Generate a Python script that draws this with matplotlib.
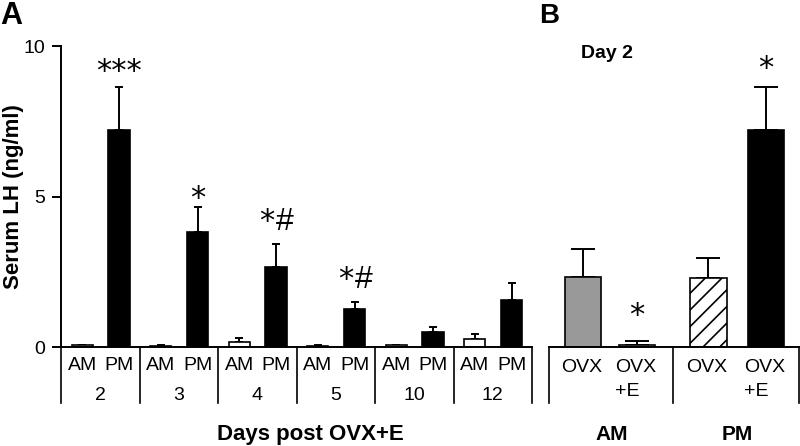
import matplotlib
matplotlib.use('Agg')
import matplotlib.pyplot as plt
import numpy as np

plt.rcParams['font.family'] = ['Liberation Sans', 'DejaVu Sans']
plt.rcParams['hatch.linewidth'] = 1.2

# Panel A data
days = ['2', '3', '4', '5', '10', '12']
am_vals = [0.05, 0.04, 0.18, 0.04, 0.05, 0.27]
am_err = [0.03, 0.03, 0.12, 0.03, 0.03, 0.16]
pm_vals = [7.2, 3.82, 2.66, 1.26, 0.5, 1.56]
pm_err = [1.45, 0.84, 0.76, 0.24, 0.16, 0.57]
pm_stars = ['***', '*', '*', '*', '', '']
pm_hash = [False, False, True, True, False, False]

# Panel B data (day 2)
b_labels = ['OVX', 'OVX\n+E', 'OVX', 'OVX\n+E']
b_groups = ['AM', 'PM']
b_vals = [2.33, 0.08, 2.3, 7.2]
b_err = [0.93, 0.12, 0.66, 1.45]
b_stars = ['', '*', '', '*']

LW = 1.4
FS = 14
STAR = dict(fontsize=22, family='DejaVu Sans', ha='center', va='baseline')


def mark(ax, x, y, stars, pad, hash_mark=False):
    # stars (and optional #) sitting above an error bar top
    if not stars:
        return
    dx = -6.5 if hash_mark else 0
    ax.annotate(stars, (x, y), xytext=(dx, pad), textcoords='offset points', **STAR)
    if hash_mark:
        ax.annotate('#', (x, y), xytext=(6.5, pad), textcoords='offset points',
                    ha='center', va='baseline', fontsize=23)


fig = plt.figure(figsize=(8, 4.46), dpi=100)
bottom = 1 - 347 / 446
height = 301 / 446
axA = fig.add_axes([61 / 800, bottom, 471 / 800, height])
axB = fig.add_axes([549 / 800, bottom, 251 / 800, height])

for ax in (axA, axB):
    ax.set_ylim(0, 10)
    ax.spines['top'].set_visible(False)
    ax.spines['right'].set_visible(False)
    ax.spines['bottom'].set_linewidth(LW)
    ax.spines['left'].set_linewidth(LW)
    ax.set_xticks([])

# ---- panel A ----
axA.set_xlim(0, len(days))
x = np.arange(len(days))
w = 0.27
axA.bar(x + 0.27, am_vals, w, color='white', edgecolor='black', linewidth=1.2, zorder=2)
axA.bar(x + 0.74, pm_vals, w, color='black', edgecolor='black', linewidth=1.2, zorder=2)
axA.errorbar(x + 0.27, am_vals, yerr=[np.zeros(len(days)), am_err], fmt='none',
             ecolor='black', elinewidth=1.4, capsize=3, capthick=1.4, zorder=1)
axA.errorbar(x + 0.74, pm_vals, yerr=[np.zeros(len(days)), pm_err], fmt='none',
             ecolor='black', elinewidth=1.4, capsize=3, capthick=1.4, zorder=1)

pads_a = [5, 0, 10, 10, 0, 0]
for i in range(len(days)):
    mark(axA, x[i] + 0.74, pm_vals[i] + pm_err[i], pm_stars[i], pads_a[i], pm_hash[i])

axA.set_yticks([0, 5, 10])
axA.set_yticklabels(['0', '5', '10'], fontsize=FS)
axA.tick_params(axis='y', direction='out', length=6.5, width=LW, pad=5)
axA.set_ylabel('Serum LH (ng/ml)', fontsize=16, fontweight='bold')
axA.yaxis.set_label_coords(-0.079, 0.5)

tA = axA.get_xaxis_transform()
for d in range(len(days) + 1):
    axA.plot([d, d], [0, -0.186], transform=tA, color='black', lw=1.2, clip_on=False)
for i, d in enumerate(days):
    axA.text(i + 0.27, -0.061, 'AM', transform=tA, ha='center', va='center', fontsize=FS)
    axA.text(i + 0.74, -0.061, 'PM', transform=tA, ha='center', va='center', fontsize=FS)
    axA.text(i + 0.5, -0.162, d, transform=tA, ha='center', va='center', fontsize=FS)
axA.text(3.18, -0.29, 'Days post OVX+E', transform=tA, ha='center', va='center',
         fontsize=16, fontweight='bold')

# ---- panel B ----
axB.set_xlim(0, 2)
axB.spines['left'].set_visible(False)
axB.set_yticks([])
xb = np.array([0.27, 0.70, 1.27, 1.73])
wb = 0.29
fills = ['#999999', 'white', 'white', 'black']
hatches = ['', '', '//', '']
for i in range(4):
    axB.bar(xb[i], b_vals[i], wb, color=fills[i], edgecolor='black', linewidth=1.2,
            hatch=hatches[i], zorder=2)
axB.errorbar(xb, b_vals, yerr=[np.zeros(4), b_err], fmt='none', ecolor='black',
             elinewidth=1.4, capsize=8.5, capthick=1.4, zorder=1)
pads_b = [0, 12, 0, 7]
for i in range(4):
    mark(axB, xb[i], b_vals[i] + b_err[i], b_stars[i], pads_b[i])

tB = axB.get_xaxis_transform()
for d in [0.0, 0.99, 1.995]:
    axB.plot([d, d], [0, -0.186], transform=tB, color='black', lw=1.2, clip_on=False)
for i, lab in enumerate(b_labels):
    axB.text(xb[i] - 0.175, -0.04, lab, transform=tB, ha='left', va='top', fontsize=FS,
             multialignment='left', linespacing=1.5)
for i, g in enumerate(b_groups):
    axB.text(i + 0.5, -0.29, g, transform=tB, ha='center', va='center',
             fontsize=15, fontweight='bold')
axB.text(0.23, 0.975, 'Day 2', transform=axB.transAxes, ha='center', va='center',
         fontsize=14, fontweight='bold')

fig.text(0, 1 - 1 / 446, 'A', fontsize=22, fontweight='bold', ha='left', va='top')
fig.text(539 / 800, 1 - 3 / 446, 'B', fontsize=20, fontweight='bold', ha='left', va='top')

fig.savefig('out.png', dpi=100)
